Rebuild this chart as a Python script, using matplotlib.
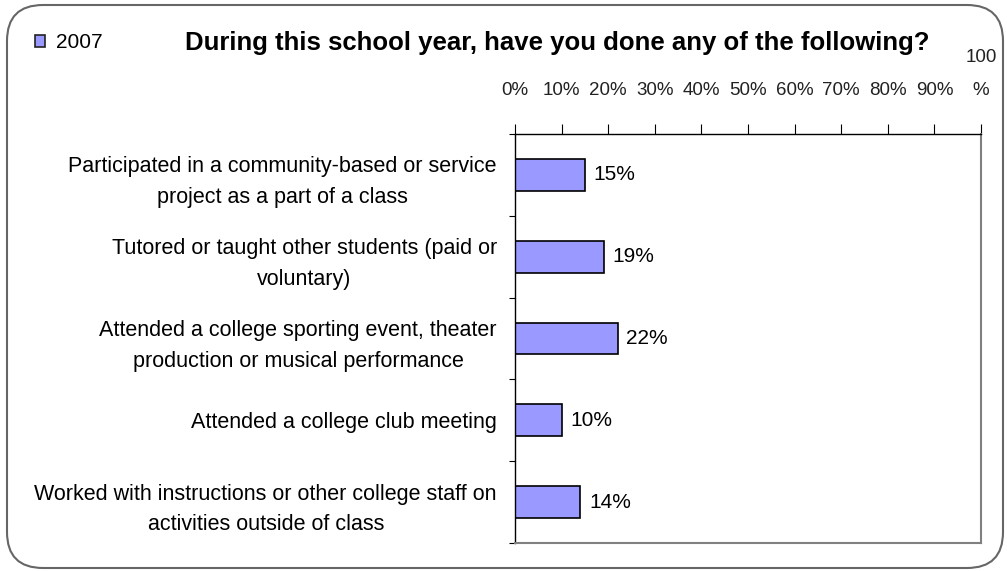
import matplotlib
matplotlib.use('Agg')
import matplotlib.pyplot as plt
from matplotlib.patches import FancyBboxPatch, Patch
from matplotlib.transforms import IdentityTransform
import numpy as np

# data
categories = [
    'Participated in a community-based or service\nproject as a part of a class',
    'Tutored or taught other students (paid or\nvoluntary)',
    'Attended a college sporting event, theater\nproduction or musical performance',
    'Attended a college club meeting',
    'Worked with instructions or other college staff on\nactivities outside of class',
]
values_2007 = [15, 19, 22, 10, 14]
x_ticks = [0, 10, 20, 30, 40, 50, 60, 70, 80, 90, 100]
x_tick_labels = ['0%', '10%', '20%', '30%', '40%', '50%', '60%', '70%', '80%', '90%', '100\n%']
series_name = '2007'
title = 'During this school year, have you done any of the following?'

bar_color = '#9999FF'
plt.rcParams['font.family'] = ['Liberation Sans', 'DejaVu Sans']

fig = plt.figure(figsize=(10.07, 5.71), dpi=100)
W, H = 1007, 571
ax = fig.add_axes([515 / W, 1 - 543 / H, (981 - 515) / W, (543 - 134) / H])

y = np.arange(len(categories))
ax.barh(y, values_2007, height=0.39, color=bar_color, edgecolor='black', linewidth=1.2)
for yi, v in zip(y, values_2007):
    ax.text(v + 1.9, yi, f'{v}%', va='center', ha='left', fontsize=15)

ax.set_ylim(len(categories) - 0.5, -0.5)
ax.set_xlim(0, 100)

# x axis on top
ax.xaxis.tick_top()
ax.set_xticks(x_ticks)
ax.set_xticklabels(x_tick_labels, fontsize=13.5, linespacing=2.25, color='#222222')
ax.tick_params(axis='x', direction='out', length=7, width=0.8, pad=18)

# categories in the middle, ticks on boundaries
ax.set_yticks(y)
ax.set_yticklabels(categories, fontsize=15.5, multialignment='center', linespacing=1.6)
ax.tick_params(axis='y', length=0, pad=13)
ax.set_yticks(np.arange(-0.5, len(categories)), minor=True)
ax.tick_params(axis='y', which='minor', direction='out', length=4.5, width=0.8)

for side in ['top', 'left']:
    ax.spines[side].set_color('black')
    ax.spines[side].set_linewidth(1.0)
for side in ['right', 'bottom']:
    ax.spines[side].set_color('#808080')
    ax.spines[side].set_linewidth(1.5)

fig.text(557 / W, 1 - 43 / H, title, ha='center', va='center', fontsize=18.5, fontweight='bold')

handle = Patch(facecolor=bar_color, edgecolor='#222222', linewidth=1.2)
fig.legend([handle], [series_name], loc='center left', bbox_to_anchor=(35 / W, 1 - 43 / H),
           frameon=False, fontsize=15, handlelength=0.5, handleheight=0.5, handletextpad=0.5,
           borderpad=0, borderaxespad=0)

# rounded outer border, in pixels
border = FancyBboxPatch((7, 3), 996, 563, boxstyle='round,pad=0,rounding_size=36',
                        transform=IdentityTransform(), facecolor='none', edgecolor='#666666',
                        linewidth=1.5)
fig.add_artist(border)

fig.savefig('out.png', dpi=100)
